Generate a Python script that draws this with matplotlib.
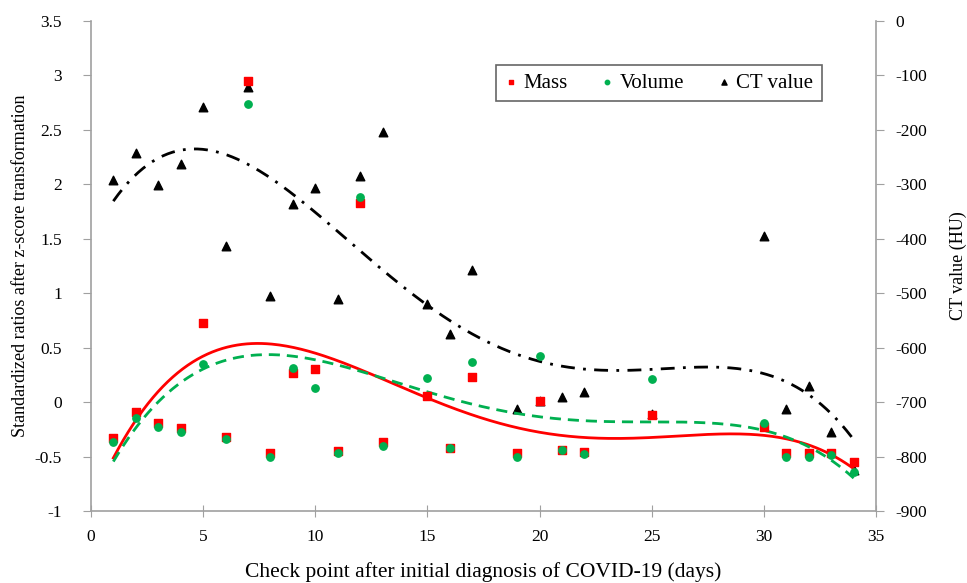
import matplotlib.pyplot as plt
import numpy as np

plt.rcParams['font.family'] = ['Liberation Serif', 'DejaVu Serif']
plt.rcParams['axes.unicode_minus'] = False

days = [1, 2, 3, 4, 5, 6, 7, 8, 9, 10, 11, 12, 13, 15, 16, 17,
        19, 20, 21, 22, 25, 30, 31, 32, 33, 34]
mass = [-0.33, -0.09, -0.19, -0.24, 0.73, -0.32, 2.95, -0.47, 0.27, 0.30,
        -0.45, 1.83, -0.37, 0.06, -0.42, 0.23, -0.47, 0.01, -0.44, -0.46,
        -0.12, -0.23, -0.47, -0.47, -0.47, -0.55]
volume = [-0.37, -0.15, -0.23, -0.27, 0.35, -0.34, 2.74, -0.50, 0.31, 0.13,
          -0.47, 1.88, -0.40, 0.22, -0.42, 0.37, -0.50, 0.42, -0.44, -0.48,
          0.21, -0.19, -0.50, -0.50, -0.49, -0.64]
ct_value = [-292, -242, -302, -262, -158, -414, -122, -506, -337, -307,
            -511, -284, -203, -520, -575, -458, -713, -698, -691, -682,
            -722, -394, -713, -670, -755, -825]

x = np.array(days, dtype=float)
xs = np.linspace(1, 34, 300)
# polynomial trend lines like Excel
fit_mass = np.polyval(np.polyfit(x, mass, 4), xs)
fit_vol = np.polyval(np.polyfit(x, volume, 4), xs)
fit_ct = np.polyval(np.polyfit(x, ct_value, 4), xs)

fig = plt.figure(figsize=(9.67, 5.83), dpi=100)
ax = fig.add_axes([0.094, 0.1235, 0.812, 0.8405])
ax2 = ax.twinx()

ax.scatter(days, mass, marker='s', s=28, c='#ff0000', zorder=3, label='Mass')
ax.scatter(days, volume, marker='o', s=28, c='#00b050', zorder=3, label='Volume')
ax2.scatter(days, ct_value, marker='^', s=38, c='black', zorder=3, label='CT value')

ax.plot(xs, fit_mass, color='#ff0000', lw=2)
ax.plot(xs, fit_vol, color='#00b050', lw=2, dashes=(4, 2.5))
ax2.plot(xs, fit_ct, color='black', lw=2, dashes=(5, 3, 1, 3))

ax.set_xlim(0, 35)
ax.set_ylim(-1, 3.5)
ax2.set_ylim(-900, 0)
ax.set_xticks(np.arange(0, 36, 5))
ax.set_yticks(np.arange(-1, 3.51, 0.5))
ax.set_yticklabels(['-1', '-0.5', '0', '0.5', '1', '1.5', '2', '2.5', '3', '3.5'])
ax2.set_yticks(np.arange(-900, 1, 100))

for a in (ax, ax2):
    a.spines['top'].set_visible(False)
    for s in ('left', 'right', 'bottom'):
        a.spines[s].set_color('#a0a0a0')
        a.spines[s].set_linewidth(1.2)
ax.spines['right'].set_visible(False)
ax2.spines['left'].set_visible(False)
ax2.spines['bottom'].set_visible(False)

ax.tick_params(axis='y', direction='out', length=6, color='#a0a0a0', labelsize=12.5, pad=15)
ax.tick_params(axis='x', direction='inout', length=8, color='#a0a0a0', labelsize=12.5, pad=9)
ax2.tick_params(axis='y', direction='out', length=6, color='#a0a0a0', labelsize=12.5, pad=8)

ax.set_xlabel('Check point after initial diagnosis of COVID-19 (days)', fontsize=15.5, labelpad=12)
ax.set_ylabel('Standardized ratios after z-score transformation', fontsize=13, labelpad=4)
ax2.set_ylabel('CT value (HU)', fontsize=13, labelpad=16)

h1, l1 = ax.get_legend_handles_labels()
h2, l2 = ax2.get_legend_handles_labels()
leg = ax.legend(h1 + h2, l1 + l2, loc='upper left', bbox_to_anchor=(0.503, 0.932),
                ncol=3, fontsize=15, frameon=True, fancybox=False, edgecolor='#404040',
                handlelength=0.6, handletextpad=0.3, columnspacing=1.6, markerscale=0.6,
                borderpad=0.4)
leg.get_frame().set_linewidth(1.2)
ax.set_zorder(ax2.get_zorder() + 1)
ax.patch.set_visible(False)

fig.savefig('out.png', dpi=100)
